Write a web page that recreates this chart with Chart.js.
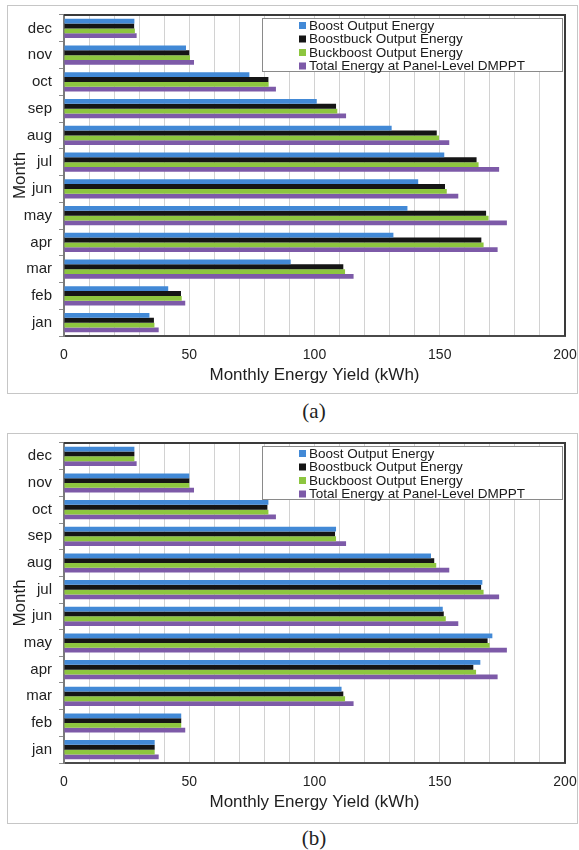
<!DOCTYPE html>
<html>
<head>
<meta charset="utf-8">
<title>Monthly Energy Yield</title>
<script src="https://cdn.jsdelivr.net/npm/chart.js@4.4.0/dist/chart.umd.min.js"></script>
<style>
  html, body { margin: 0; padding: 0; background: #fff; width: 579px; height: 850px; overflow: hidden; position: relative; }
  .frame { position: absolute; left: 7px; width: 571px; box-sizing: border-box; border: 1px solid #c6c6c6; }
  .plot { position: absolute; left: 7px; width: 570px; }
  .caption { position: absolute; left: 274px; width: 80px; text-align: center; line-height: 24px;
             font-family: "Liberation Serif", "Times New Roman", serif; font-size: 21px; color: #222; }
</style>
</head>
<body>
<div class="frame" style="top:5px;height:389px"></div>
<div class="plot" style="top:5px;height:389px"><canvas id="chartA"></canvas></div>
<div class="caption" style="top:399px">(a)</div>

<div class="frame" style="top:433px;height:391px"></div>
<div class="plot" style="top:433px;height:391px"><canvas id="chartB"></canvas></div>
<div class="caption" style="top:826px">(b)</div>

<script>
// Months, January to December
const months = ['jan', 'feb', 'mar', 'apr', 'may', 'jun', 'jul', 'aug', 'sep', 'oct', 'nov', 'dec'];

// Series names
const seriesNames = ['Boost Output Energy', 'Boostbuck Output Energy', 'Buckboost Output Energy', 'Total Energy at Panel-Level DMPPT'];

// Monthly energy yield, kWh — panel (a)
const boostA     = [34.1, 41.6, 90.5, 131.5, 137.1, 141.4, 151.8, 130.8, 100.9, 74.0, 48.7, 28.1];
const boostbuckA = [35.9, 46.7, 111.5, 166.6, 168.5, 152.1, 164.7, 148.8, 108.6, 81.6, 50.0, 28.0];
const buckboostA = [36.1, 47.0, 112.2, 167.5, 169.5, 152.8, 165.5, 149.7, 109.1, 81.7, 50.3, 28.3];

// Monthly energy yield, kWh — panel (b)
const boostB     = [36.2, 46.8, 110.8, 166.2, 171.0, 151.2, 167.0, 146.5, 108.6, 81.6, 50.0, 28.1];
const boostbuckB = [36.2, 46.8, 111.5, 163.4, 169.1, 151.6, 166.5, 147.8, 108.2, 81.2, 50.0, 28.1];
const buckboostB = [36.2, 46.8, 112.2, 164.5, 169.9, 152.4, 167.5, 148.6, 108.6, 81.6, 50.0, 28.1];

// Reference total at panel-level DMPPT (same in both panels)
const panelLevelTotal = [37.8, 48.4, 115.6, 173.1, 176.8, 157.4, 173.7, 153.8, 112.6, 84.6, 51.9, 29.0];

// Axis range and labelled ticks
const xMin = 0, xMax = 200, gridStep = 10;
const xTickLabels = [0, 50, 100, 150, 200];

const seriesColors = ['#4289d6', '#151515', '#8dc63f', '#7d5aa8'];
const FONT = '"Liberation Sans", Arial, Helvetica, sans-serif';

// Top and right edges of the plot box
const plotFrame = {
  id: 'plotFrame',
  afterDatasetsDraw(chart) {
    const { ctx, chartArea: a } = chart;
    ctx.save();
    ctx.strokeStyle = '#3a3a3a';
    ctx.lineWidth = 2;
    ctx.beginPath();
    ctx.moveTo(a.left, a.top);
    ctx.lineTo(a.right, a.top);
    ctx.lineTo(a.right, a.bottom);
    ctx.stroke();
    ctx.restore();
  }
};

// Boxed legend in the upper right of the plot
const boxLegend = {
  id: 'boxLegend',
  afterDraw(chart) {
    const { ctx, chartArea: a } = chart;
    const left = a.left + 198, top = a.top + 3;
    const w = a.right - 2 - left, h = 54;
    ctx.save();
    ctx.fillStyle = '#fff';
    ctx.fillRect(left, top, w, h);
    ctx.strokeStyle = '#8a8a8a';
    ctx.lineWidth = 1;
    ctx.strokeRect(left + 0.5, top + 0.5, w - 1, h - 1);
    ctx.font = '13.5px ' + FONT;
    ctx.textBaseline = 'middle';
    ctx.textAlign = 'left';
    chart.data.datasets.forEach((ds, i) => {
      const y = top + 7.5 + i * 13.5;
      ctx.fillStyle = ds.backgroundColor;
      ctx.fillRect(left + 37, y - 3.5, 7, 7);
      ctx.fillStyle = '#1a1a1a';
      ctx.fillText(ds.label, left + 47, y + 0.5);
    });
    ctx.restore();
  }
};

function makeChart(id, series, bottomPad) {
  const datasets = series.map((values, i) => ({
    label: seriesNames[i],
    data: values,
    backgroundColor: seriesColors[i],
    borderWidth: 0,
    barPercentage: 1.0,
    categoryPercentage: 0.72
  }));

  return new Chart(document.getElementById(id), {
    type: 'bar',
    data: { labels: months, datasets },
    plugins: [plotFrame, boxLegend],
    options: {
      indexAxis: 'y',
      responsive: true,
      maintainAspectRatio: false,
      animation: false,
      layout: { padding: { top: 10, right: 12, left: 0, bottom: bottomPad } },
      plugins: { legend: { display: false }, tooltip: { enabled: false } },
      scales: {
        x: {
          min: xMin,
          max: xMax,
          afterFit(scale) {
            scale.height = 50;
            scale.paddingLeft = 0;
            scale.paddingRight = 0;
          },
          grid: { color: '#d2d2d2', lineWidth: 1, drawTicks: false },
          border: { display: true, color: '#4a4a4a', width: 2 },
          ticks: {
            stepSize: gridStep,
            autoSkip: false,
            maxRotation: 0,
            padding: 11,
            color: '#222',
            font: { size: 14, family: FONT },
            callback: (v) => (xTickLabels.includes(v) ? String(v) : '')
          },
          title: {
            display: true,
            text: 'Monthly Energy Yield (kWh)',
            color: '#1e1e1e',
            font: { size: 17, family: FONT },
            padding: 0
          }
        },
        y: {
          reverse: true,
          afterFit(scale) {
            scale.width = 57;
            scale.paddingTop = 0;
            scale.paddingBottom = 0;
          },
          grid: { drawOnChartArea: false, offset: true, tickLength: 5, color: '#8c8c8c' },
          border: { display: true, color: '#7a7a7a', width: 2 },
          ticks: { padding: 7, color: '#222', font: { size: 15, family: FONT } },
          title: {
            display: true,
            text: 'Month',
            color: '#1e1e1e',
            font: { size: 17, family: FONT },
            padding: { top: 3, bottom: 0 }
          }
        }
      }
    }
  });
}

makeChart('chartA', [boostA, boostbuckA, buckboostA, panelLevelTotal], 8);
makeChart('chartB', [boostB, boostbuckB, buckboostB, panelLevelTotal], 11);
</script>
</body>
</html>
